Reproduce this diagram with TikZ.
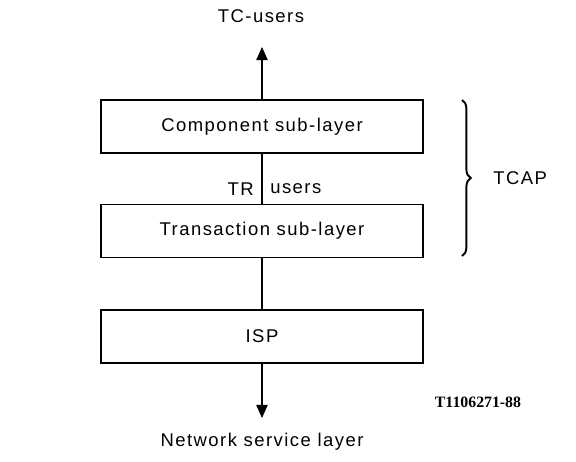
\documentclass[tikz,border=0pt]{standalone}
\usepackage{fontspec}
\setmainfont[LetterSpace=8]{Liberation Sans}
\newfontfamily\refnofont{Liberation Serif}
\usetikzlibrary{arrows.meta,decorations.pathreplacing}

\tikzset{
    layerbox/.style={draw, line width=1.1pt, minimum width=6.44cm, minimum height=1.06cm, inner sep=0pt},
    layerline/.style={line width=0.8pt},
    layerarrow/.style={line width=0.8pt, -{Triangle[width=6.5pt,length=7.5pt]}},
}

\begin{document}
\begin{tikzpicture}[x=0.02cm, y=-0.02cm, font=\fontsize{10.5}{12}\selectfont]
                \useasboundingbox (0,0) rectangle (576,461);

                \node (comp)  at (262,126.5) [layerbox] {Component sub-layer};
                \node (trans) at (262,231)   [layerbox] {Transaction sub-layer};
                \node (isp)   at (262,336.5) [layerbox] {ISP};

                \node (tcusers)  at (261,16)  {TC-users};
                \node (netlayer) at (262,442) {Network service layer};
                \node (refno)    at (478,402) [font=\refnofont\bfseries\fontsize{9}{10}\selectfont] {T1106271-88};

                \coordinate (uptip)   at (262,47);
                \coordinate (downtip) at (262,418);
                \coordinate (bracetop) at (462,100);
                \coordinate (bracebot) at (462,256);

                \draw [layerarrow] (comp) -- (uptip);
                \draw [layerline] (comp) -- (trans)
                    node [pos=0.7, left=1pt] {TR}
                    node [pos=0.7, right=1pt] {users};
                \draw [layerline] (trans) -- (isp);
                \draw [layerarrow] (isp) -- (downtip);

                \draw [line width=1.1pt, decorate, decoration={brace, amplitude=5pt}] (bracetop) -- (bracebot)
                    node (tcap) [midway, right=14pt] {TCAP};
\end{tikzpicture}
\end{document}
